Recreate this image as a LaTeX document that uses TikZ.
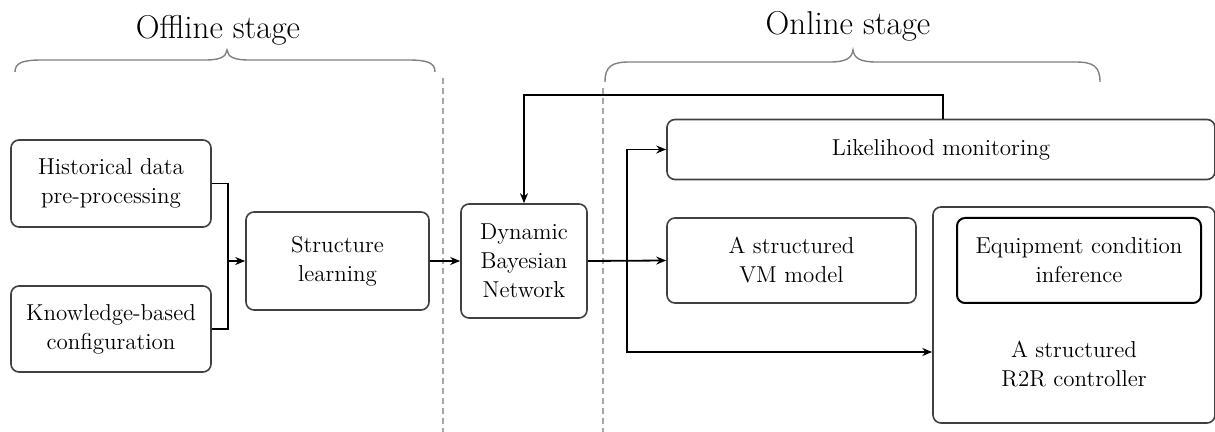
\documentclass[tikz,border=0pt]{standalone}
\usetikzlibrary{arrows.meta}
\begin{document}
\begin{tikzpicture}[x=0.5pt,y=-0.5pt,
  box/.style={draw=black!75, line width=0.8pt, rounded corners=4pt, align=center,
    inner sep=0pt, font=\fontsize{11.5}{14.5}\selectfont},
  innerbox/.style={box, draw=black, line width=1pt},
  plain/.style={align=center, inner sep=0pt, font=\fontsize{11.5}{14.5}\selectfont},
  conn/.style={draw=black, line width=0.9pt},
  arr/.style={conn, -{Stealth[length=5pt,width=4pt]}},
  bracec/.style={draw=black!50, line width=0.7pt},
  sep/.style={draw=black!35, line width=0.6pt, dash pattern=on 3pt off 2pt},
  title/.style={font=\fontsize{16.5}{19}\selectfont}]
\useasboundingbox (0,0) rectangle (1215,432);

% titles
\node[title] (toff) at (218,30) {Offline stage};
\node[title] (ton) at (848,26) {Online stage};

% braces
\draw[bracec] (15,72) .. controls (15,63) and (22,60) .. (42,60) -- (205,60)
  .. controls (220,60) and (226,57) .. (227,50)
  .. controls (228,57) and (234,60) .. (249,60) -- (408,60)
  .. controls (428,60) and (435,63) .. (435,72);
\draw[bracec] (605,82) .. controls (605,66) and (612,62) .. (630,62) -- (830,62)
  .. controls (846,62) and (852,58) .. (853,50)
  .. controls (854,58) and (860,62) .. (876,62) -- (1075,62)
  .. controls (1093,62) and (1100,66) .. (1100,82);

% separators
\draw[sep] (443,78) -- (443,432);
\draw[sep] (603,88) -- (603,432);

% boxes
\node[box, minimum width=100pt, minimum height=43.5pt] (hist) at (111,183.5)
  {Historical data\\pre-processing};
\node[box, minimum width=100pt, minimum height=43pt] (know) at (111,329)
  {Knowledge-based\\configuration};
\node[box, minimum width=91.5pt, minimum height=49pt] (struct) at (337.5,261)
  {Structure\\learning};
\node[box, minimum width=63pt, minimum height=57pt] (dbn) at (524,261)
  {Dynamic\\Bayesian\\Network};
\node[box, minimum width=274pt, minimum height=30pt] (lik) at (941,149.5)
  {Likelihood monitoring};
\node[box, minimum width=124.5pt, minimum height=42.5pt] (vm) at (791.5,260.5)
  {A structured\\VM model};
\node[box, minimum width=141pt, minimum height=108pt] (r2r) at (1074,315) {};
\node[plain] (r2rt) at (1074,364)
  {A structured\\R2R controller};
\node[innerbox, minimum width=122pt, minimum height=42.5pt] (equip) at (1079,260.5)
  {Equipment condition\\inference};

% coordinates
\coordinate (j1) at (228,261);
\coordinate (b) at (627,261);
\coordinate (fb) at (524,95);

% connectors
\draw[conn] (hist.east) -| (j1);
\draw[conn] (know.east) -| (j1);
\draw[arr] (j1) -- (struct.west);
\draw[arr] (struct.east) -- (dbn.west);
\draw[arr] (dbn.east) -- (vm.west);
\draw[arr] (b) |- (lik.west);
\draw[arr] (b) |- (r2r.west |- 0,352);
\draw[arr] (lik.north -| 943,0) |- (fb) -- (dbn.north);
\end{tikzpicture}
\end{document}
